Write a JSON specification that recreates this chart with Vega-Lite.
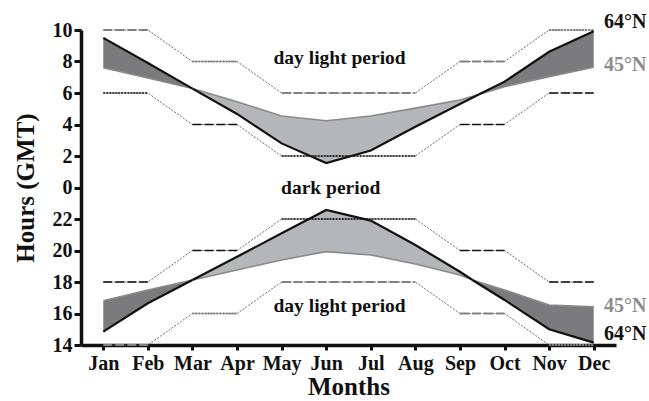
{
  "$schema": "https://vega.github.io/schema/vega-lite/v6.json",
  "width": 535,
  "height": 315,
  "autosize": {"type": "none"},
  "padding": {"left": 81, "top": 30, "right": 33, "bottom": 56},
  "background": "white",
  "config": {
    "view": {"stroke": null},
    "axis": {
      "domainColor": "#111",
      "domainWidth": 3.5,
      "tickColor": "#111",
      "tickWidth": 3,
      "tickSize": 7,
      "grid": false,
      "labelOverlap": false,
      "labelFont": "Liberation Serif",
      "labelFontWeight": "bold",
      "labelFontSize": 20,
      "labelColor": "#111",
      "titleFont": "Liberation Serif",
      "titleFontWeight": "bold",
      "titleFontSize": 25,
      "titleColor": "#111"
    }
  },
  "resolve": {"scale": {"color": "independent", "strokeDash": "independent", "strokeWidth": "independent"}},
  "datasets": {
    "bands": [
      {"part": "upper", "seg": "U1", "shade": "dark", "month": 1, "n64": 33.5, "n45": 31.6},
      {"part": "upper", "seg": "U1", "shade": "dark", "month": 2, "n64": 31.9, "n45": 30.95},
      {"part": "upper", "seg": "U1", "shade": "dark", "month": 3, "n64": 30.28, "n45": 30.28},
      {"part": "upper", "seg": "U2", "shade": "light", "month": 3, "n64": 30.28, "n45": 30.28},
      {"part": "upper", "seg": "U2", "shade": "light", "month": 4, "n64": 28.67, "n45": 29.45},
      {"part": "upper", "seg": "U2", "shade": "light", "month": 5, "n64": 26.8, "n45": 28.54},
      {"part": "upper", "seg": "U2", "shade": "light", "month": 6, "n64": 25.55, "n45": 28.24},
      {"part": "upper", "seg": "U2", "shade": "light", "month": 7, "n64": 26.35, "n45": 28.54},
      {"part": "upper", "seg": "U2", "shade": "light", "month": 8, "n64": 27.86, "n45": 29.04},
      {"part": "upper", "seg": "U2", "shade": "light", "month": 9, "n64": 29.3, "n45": 29.56},
      {"part": "upper", "seg": "U2", "shade": "light", "month": 9.42, "n64": 29.9, "n45": 29.9},
      {"part": "upper", "seg": "U3", "shade": "dark", "month": 9.42, "n64": 29.9, "n45": 29.9},
      {"part": "upper", "seg": "U3", "shade": "dark", "month": 10, "n64": 30.72, "n45": 30.4},
      {"part": "upper", "seg": "U3", "shade": "dark", "month": 11, "n64": 32.62, "n45": 31.04},
      {"part": "upper", "seg": "U3", "shade": "dark", "month": 12, "n64": 33.92, "n45": 31.63},
      {"part": "lower", "seg": "L1", "shade": "dark", "month": 1, "n64": 14.85, "n45": 16.81},
      {"part": "lower", "seg": "L1", "shade": "dark", "month": 2, "n64": 16.65, "n45": 17.49},
      {"part": "lower", "seg": "L1", "shade": "dark", "month": 3, "n64": 18.13, "n45": 18.13},
      {"part": "lower", "seg": "L2", "shade": "light", "month": 3, "n64": 18.13, "n45": 18.13},
      {"part": "lower", "seg": "L2", "shade": "light", "month": 4, "n64": 19.6, "n45": 18.76},
      {"part": "lower", "seg": "L2", "shade": "light", "month": 5, "n64": 21.09, "n45": 19.4},
      {"part": "lower", "seg": "L2", "shade": "light", "month": 6, "n64": 22.57, "n45": 19.93},
      {"part": "lower", "seg": "L2", "shade": "light", "month": 7, "n64": 21.9, "n45": 19.71},
      {"part": "lower", "seg": "L2", "shade": "light", "month": 8, "n64": 20.35, "n45": 19.14},
      {"part": "lower", "seg": "L2", "shade": "light", "month": 9, "n64": 18.65, "n45": 18.44},
      {"part": "lower", "seg": "L2", "shade": "light", "month": 9.28, "n64": 18.13, "n45": 18.13},
      {"part": "lower", "seg": "L3", "shade": "dark", "month": 9.28, "n64": 18.13, "n45": 18.13},
      {"part": "lower", "seg": "L3", "shade": "dark", "month": 10, "n64": 16.86, "n45": 17.49},
      {"part": "lower", "seg": "L3", "shade": "dark", "month": 11, "n64": 15.0, "n45": 16.54},
      {"part": "lower", "seg": "L3", "shade": "dark", "month": 12, "n64": 14.15, "n45": 16.43}
    ],
    "steps": [
      {"line": "A", "month": 1, "hour": 34}, {"line": "A", "month": 2, "hour": 34},
      {"line": "A", "month": 3, "hour": 32}, {"line": "A", "month": 4, "hour": 32},
      {"line": "A", "month": 5, "hour": 30}, {"line": "A", "month": 8, "hour": 30},
      {"line": "A", "month": 9, "hour": 32}, {"line": "A", "month": 10, "hour": 32},
      {"line": "A", "month": 11, "hour": 34}, {"line": "A", "month": 12, "hour": 34},
      {"line": "B", "month": 1, "hour": 30}, {"line": "B", "month": 2, "hour": 30},
      {"line": "B", "month": 3, "hour": 28}, {"line": "B", "month": 4, "hour": 28},
      {"line": "B", "month": 5, "hour": 26}, {"line": "B", "month": 8, "hour": 26},
      {"line": "B", "month": 9, "hour": 28}, {"line": "B", "month": 10, "hour": 28},
      {"line": "B", "month": 11, "hour": 30}, {"line": "B", "month": 12, "hour": 30},
      {"line": "C", "month": 1, "hour": 18}, {"line": "C", "month": 2, "hour": 18},
      {"line": "C", "month": 3, "hour": 20}, {"line": "C", "month": 4, "hour": 20},
      {"line": "C", "month": 5, "hour": 22}, {"line": "C", "month": 8, "hour": 22},
      {"line": "C", "month": 9, "hour": 20}, {"line": "C", "month": 10, "hour": 20},
      {"line": "C", "month": 11, "hour": 18}, {"line": "C", "month": 12, "hour": 18},
      {"line": "D", "month": 1, "hour": 14}, {"line": "D", "month": 2, "hour": 14},
      {"line": "D", "month": 3, "hour": 16}, {"line": "D", "month": 4, "hour": 16},
      {"line": "D", "month": 5, "hour": 18}, {"line": "D", "month": 8, "hour": 18},
      {"line": "D", "month": 9, "hour": 16}, {"line": "D", "month": 10, "hour": 16},
      {"line": "D", "month": 11, "hour": 14}, {"line": "D", "month": 12, "hour": 14}
    ],
    "flats": [
      {"m1": 1, "m2": 2, "hour": 34, "style": "gray dash"},
      {"m1": 3, "m2": 4, "hour": 32, "style": "gray dot"},
      {"m1": 5, "m2": 8, "hour": 30, "style": "gray dash"},
      {"m1": 9, "m2": 10, "hour": 32, "style": "gray dash"},
      {"m1": 11, "m2": 12, "hour": 34, "style": "gray dot"},
      {"m1": 1, "m2": 2, "hour": 30, "style": "black dot"},
      {"m1": 3, "m2": 4, "hour": 28, "style": "black dash"},
      {"m1": 5, "m2": 8, "hour": 26, "style": "black dot"},
      {"m1": 9, "m2": 10, "hour": 28, "style": "black dash"},
      {"m1": 11, "m2": 12, "hour": 30, "style": "black dash"},
      {"m1": 1, "m2": 2, "hour": 18, "style": "black dash"},
      {"m1": 3, "m2": 4, "hour": 20, "style": "black dash"},
      {"m1": 5, "m2": 8, "hour": 22, "style": "black dot"},
      {"m1": 9, "m2": 10, "hour": 20, "style": "black dash"},
      {"m1": 11, "m2": 12, "hour": 18, "style": "black dash"},
      {"m1": 1, "m2": 2, "hour": 14, "style": "gray dash"},
      {"m1": 3, "m2": 4, "hour": 16, "style": "gray dot"},
      {"m1": 5, "m2": 8, "hour": 18, "style": "gray dash"},
      {"m1": 9, "m2": 10, "hour": 16, "style": "gray dash"},
      {"m1": 11, "m2": 12, "hour": 14, "style": "gray dot"}
    ],
    "notes": [
      {"label": "day light period", "month": 6.3, "hour": 32.2, "kind": "period", "side": "center"},
      {"label": "dark period", "month": 6.1, "hour": 23.97, "kind": "period", "side": "center"},
      {"label": "day light period", "month": 6.3, "hour": 16.45, "kind": "period", "side": "center"},
      {"label": "64°N", "month": 12.23, "hour": 34.5, "kind": "64°N", "side": "right"},
      {"label": "45°N", "month": 12.23, "hour": 31.75, "kind": "45°N", "side": "right"},
      {"label": "45°N", "month": 12.23, "hour": 16.5, "kind": "45°N", "side": "right"},
      {"label": "64°N", "month": 12.23, "hour": 14.7, "kind": "64°N", "side": "right"}
    ]
  },
  "encoding": {
    "x": {
      "type": "quantitative",
      "scale": {"domain": [0.5, 12.5], "nice": false, "zero": false},
      "axis": {
        "title": "Months",
        "values": [1, 2, 3, 4, 5, 6, 7, 8, 9, 10, 11, 12],
        "labelExpr": "['Jan','Feb','Mar','Apr','May','Jun','Jul','Aug','Sep','Oct','Nov','Dec'][datum.value - 1]",
        "labelOverlap": false,
        "labelPadding": 3,
        "titlePadding": 1,
        "tickSize": 5
      }
    },
    "y": {
      "type": "quantitative",
      "scale": {"domain": [14, 34], "nice": false, "zero": false},
      "axis": {
        "title": "Hours (GMT)",
        "values": [14, 16, 18, 20, 22, 24, 26, 28, 30, 32, 34],
        "labelExpr": "datum.value >= 24 ? datum.value - 24 : datum.value",
        "labelOverlap": false,
        "labelFlush": false,
        "labelPadding": 2,
        "titlePadding": 14
      }
    }
  },
  "layer": [
    {
      "data": {"name": "bands"},
      "mark": {"type": "area", "opacity": 1},
      "encoding": {
        "x": {"field": "month"},
        "y": {"field": "n64"},
        "y2": {"field": "n45"},
        "detail": {"field": "seg"},
        "color": {
          "field": "shade", "type": "nominal", "legend": null,
          "scale": {"domain": ["dark", "light"], "range": ["#7b7b7e", "#b5b6b9"]}
        }
      }
    },
    {
      "data": {"name": "steps"},
      "mark": {"type": "line", "strokeWidth": 0.9, "strokeDash": [2, 1.5], "color": "#555"},
      "encoding": {
        "x": {"field": "month"},
        "y": {"field": "hour"},
        "detail": {"field": "line"}
      }
    },
    {
      "data": {"name": "flats"},
      "mark": {"type": "rule"},
      "encoding": {
        "x": {"field": "m1"},
        "x2": {"field": "m2"},
        "y": {"field": "hour"},
        "color": {
          "field": "style", "type": "nominal", "legend": null,
          "scale": {"domain": ["gray dash", "gray dot", "black dash", "black dot"], "range": ["#808080", "#808080", "#111111", "#111111"]}
        },
        "strokeDash": {
          "field": "style", "type": "nominal", "legend": null,
          "scale": {"domain": ["gray dash", "gray dot", "black dash", "black dot"], "range": [[9, 3], [2, 1], [9, 3], [2, 1]]}
        },
        "strokeWidth": {
          "field": "style", "type": "nominal", "legend": null,
          "scale": {"domain": ["gray dash", "gray dot", "black dash", "black dot"], "range": [2, 1.6, 2.2, 2.5]}
        }
      }
    },
    {
      "data": {"name": "bands"},
      "mark": {"type": "line", "color": "#8a8a8a", "strokeWidth": 1.6},
      "encoding": {
        "x": {"field": "month"},
        "y": {"field": "n45"},
        "detail": {"field": "seg"}
      }
    },
    {
      "data": {"name": "bands"},
      "mark": {"type": "line", "color": "#111111", "strokeWidth": 2.2},
      "encoding": {
        "x": {"field": "month"},
        "y": {"field": "n64"},
        "detail": {"field": "seg"}
      }
    },
    {
      "data": {"name": "notes"},
      "transform": [{"filter": "datum.side == 'center'"}],
      "mark": {"type": "text", "font": "Liberation Serif", "fontWeight": "bold", "fontSize": 19.5, "align": "center", "baseline": "middle"},
      "encoding": {
        "x": {"field": "month"},
        "y": {"field": "hour"},
        "text": {"field": "label"},
        "color": {
          "field": "kind", "type": "nominal", "legend": null,
          "scale": {"domain": ["period", "64°N", "45°N"], "range": ["#111111", "#111111", "#8c8c8c"]}
        }
      }
    },
    {
      "data": {"name": "notes"},
      "transform": [{"filter": "datum.side == 'right'"}],
      "mark": {"type": "text", "font": "Liberation Serif", "fontWeight": "bold", "fontSize": 20, "align": "left", "baseline": "middle"},
      "encoding": {
        "x": {"field": "month"},
        "y": {"field": "hour"},
        "text": {"field": "label"},
        "color": {
          "field": "kind", "type": "nominal", "legend": null,
          "scale": {"domain": ["period", "64°N", "45°N"], "range": ["#111111", "#111111", "#8c8c8c"]}
        }
      }
    }
  ]
}
